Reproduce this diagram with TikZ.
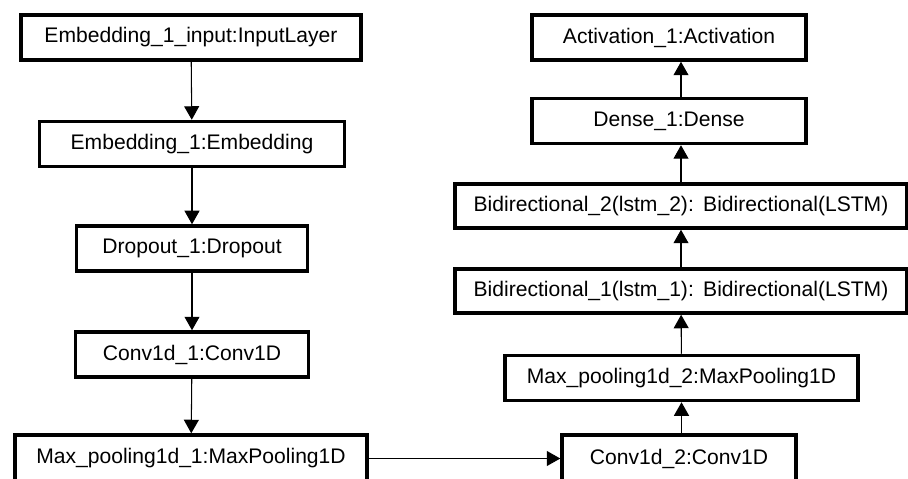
\documentclass[tikz,border=0pt]{standalone}
\usepackage{fontspec}
\setmainfont{Liberation Sans}
\usetikzlibrary{arrows.meta}

\begin{document}
\begin{tikzpicture}[x=0.02cm, y=-0.02cm,
    layer/.style = {draw, line width=2pt, minimum height=0.9cm, inner sep=2pt,
                    font=\fontsize{12}{14}\selectfont},
    flow/.style = {-{Triangle[width=0.3cm, length=0.27cm]}, line width=0.6pt}]
    \useasboundingbox (0, 0) rectangle (908, 479);
    \clip (0, 0) rectangle (908, 479);
    % left column: embedding and first convolution
    \node[layer, minimum width = 6.8cm] (embedding input) at (191, 37.5) {Embedding\_1\_input:InputLayer};
    \node[layer, minimum width = 6.1cm] (embedding) at (192, 144) {Embedding\_1:Embedding};
    \node[layer, minimum width = 4.62cm] (dropout) at (192, 248.5) {Dropout\_1:Dropout};
    \node[layer, minimum width = 4.66cm] (conv one) at (192, 354.5) {Conv1d\_1:Conv1D};
    \node[layer, minimum width = 7.04cm, minimum height = 0.94cm] (max pooling one) at (191, 458.5) {Max\_pooling1d\_1:MaxPooling1D};
    \draw[flow] (embedding input) -- (embedding);
    \draw[flow] (embedding) -- (dropout);
    \draw[flow] (dropout) -- (conv one);
    \draw[flow] (conv one) -- (max pooling one);
    % right column: second convolution, LSTM layers and output
    \node[layer, minimum width = 4.68cm, minimum height = 0.94cm] (conv two) at (679, 458.5) {Conv1d\_2:Conv1D};
    \node[layer, minimum width = 7.06cm] (max pooling two) at (681.5, 378) {Max\_pooling1d\_2:MaxPooling1D};
    \node[layer, minimum width = 9.04cm, minimum height = 0.88cm] (bidirectional one) at (681, 291) {Bidirectional\_1(lstm\_1):\ \,Bidirectional(LSTM)};
    \node[layer, minimum width = 9.04cm, minimum height = 0.88cm] (bidirectional two) at (681, 206) {Bidirectional\_2(lstm\_2):\ \,Bidirectional(LSTM)};
    \node[layer, minimum width = 5.48cm] (dense) at (669, 121) {Dense\_1:Dense};
    \node[layer, minimum width = 5.48cm] (activation) at (669, 37.5) {Activation\_1:Activation};
    \draw[flow] (max pooling one) -- (conv two);
    \draw[flow] (conv two.north -| max pooling two) -- (max pooling two);
    \draw[flow] (max pooling two) -- (bidirectional one);
    \draw[flow] (bidirectional one) -- (bidirectional two);
    \draw[flow] (bidirectional two) -- (bidirectional two |- dense.south);
    \draw[flow] (dense.north -| bidirectional two) -- (bidirectional two |- activation.south);
\end{tikzpicture}
\end{document}
